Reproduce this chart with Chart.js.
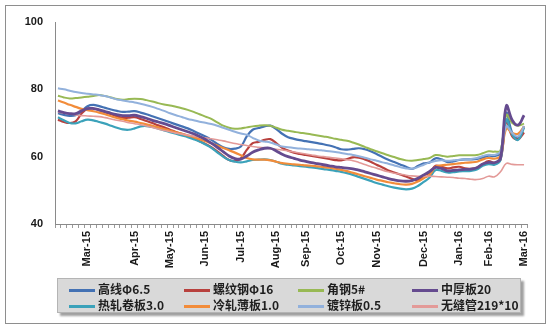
<!DOCTYPE html>
<html>
<head>
<meta charset="utf-8">
<script src="https://cdn.jsdelivr.net/npm/chart.js@4"></script>
<style>
  html, body { margin: 0; padding: 0; background: #fff; }
  #wrap { position: relative; width: 552px; height: 331px; }
  #frame { position: absolute; left: 5px; top: 5px; width: 539px; height: 317px; border: 1px solid #8e8e8e; }
  #chart { position: absolute; left: 0; top: 0; }
  #legend {
    position: absolute; left: 57px; top: 278px; width: 462px; height: 33px;
    background: #d9d9d9; border: 1px solid #b4b4b4; box-shadow: 3px 3px 2px #a0a0a0;
    font: bold 12px "Noto Sans CJK SC", sans-serif; color: #1e1e1e;
  }
  .item { position: absolute; height: 16px; line-height: 16px; white-space: nowrap; }
  .item i { display: inline-block; width: 26px; height: 3px; vertical-align: middle; margin-right: 3px; }
</style>
</head>
<body>
<div id="wrap">
  <div id="frame"></div>
  <canvas id="chart" width="552" height="331"></canvas>
  <div id="legend"></div>
</div>
<script>
// month tick labels and the category slot they sit on
const tickLabels = ['Mar-15', 'Apr-15', 'May-15', 'Jun-15', 'Jul-15', 'Aug-15', 'Sep-15',
                    'Oct-15', 'Nov-15', 'Dec-15', 'Jan-16', 'Feb-16', 'Mar-16'];
const tickAt = [5, 13, 19, 25, 31, 37, 42, 48, 54, 62, 68, 73, 79];

const seriesNames = ['高线Φ6.5', '螺纹钢Φ16', '角钢5#', '中厚板20',
                     '热轧卷板3.0', '冷轧薄板1.0', '镀锌板0.5', '无缝管219*10'];

const gaoxian = [72.9,72.4,72.1,72.3,73.5,75.0,75.4,75.0,74.5,74.0,73.6,73.3,73.4,73.5,73.1,72.6,72.0,71.4,70.8,70.2,
  69.6,69.0,68.4,67.6,66.8,66.0,65.0,63.8,62.8,62.3,62.4,63.0,66.0,68.0,68.5,69.0,69.2,68.2,66.8,65.8,
  65.3,64.9,64.6,64.3,64.0,63.7,63.3,62.8,62.2,62.1,62.3,62.5,62.2,61.6,60.8,59.9,59.1,58.4,57.7,57.0,
  56.4,57.2,58.0,58.3,59.5,59.2,58.4,58.6,59.0,59.2,59.2,59.3,59.7,60.3,60.2,61.0,73.0,67.0,65.5,69.0];

const luowen = [71.0,70.3,70.0,70.5,72.8,74.2,74.3,73.8,73.2,72.6,72.0,71.5,71.6,71.7,71.2,70.6,70.0,69.3,68.7,68.0,
  67.3,66.8,66.2,65.5,64.6,63.8,62.8,61.6,60.2,59.0,58.7,59.5,62.0,64.0,64.4,65.0,65.2,64.0,62.6,61.8,
  61.2,60.8,60.5,60.2,59.9,59.6,59.3,59.0,58.9,59.3,59.8,59.7,59.2,58.5,57.6,56.8,55.9,55.3,54.7,54.1,
  53.4,53.0,54.5,55.2,57.3,57.0,56.5,56.8,57.0,56.5,56.4,56.7,57.8,58.7,58.2,59.0,70.5,66.0,65.2,67.2];

const jiaogang = [78.1,77.6,77.3,77.4,77.6,77.8,78.0,78.3,78.0,77.6,77.1,76.9,77.1,77.2,77.1,76.8,76.4,75.9,75.5,75.2,
  74.8,74.4,73.9,73.3,72.6,71.9,71.2,70.2,69.2,68.6,68.3,68.4,68.7,69.0,69.2,69.3,69.2,68.6,68.0,67.7,
  67.4,67.1,66.9,66.6,66.3,66.0,65.7,65.3,65.0,64.7,64.2,63.6,62.9,62.2,61.6,61.0,60.4,59.9,59.3,58.9,
  58.8,59.0,59.3,59.6,60.5,60.3,60.0,60.2,60.4,60.4,60.4,60.5,61.0,61.6,61.5,61.8,72.4,70.0,69.2,69.8];

const zhonghou = [73.6,73.1,72.8,72.8,73.6,74.3,74.3,73.9,73.4,72.9,72.5,72.2,72.2,72.3,71.9,71.4,70.8,70.3,69.8,69.2,
  68.6,68.0,67.4,66.8,66.0,65.1,64.0,62.8,61.5,60.2,59.4,59.3,60.2,61.3,62.0,62.5,62.5,61.7,60.7,60.0,
  59.5,59.0,58.6,58.2,57.9,57.6,57.3,57.0,56.8,56.6,56.4,56.0,55.5,55.0,54.5,54.0,53.5,53.1,52.8,52.7,
  52.9,53.6,54.6,55.6,56.8,56.5,55.8,55.9,56.1,56.2,56.3,56.7,57.8,58.3,58.2,59.5,75.1,70.8,69.4,72.3];

const rezha = [71.7,70.8,70.0,69.9,70.5,71.0,70.8,70.3,69.8,69.2,68.6,68.1,68.0,68.4,69.0,69.1,68.8,68.3,67.8,67.3,
  66.8,66.3,65.8,65.2,64.5,63.6,62.6,61.3,60.0,59.0,58.5,58.3,58.6,59.0,59.1,59.2,59.0,58.5,57.9,57.6,
  57.4,57.2,57.0,56.8,56.6,56.3,56.1,55.8,55.5,55.1,54.6,54.0,53.4,52.8,52.2,51.7,51.2,50.8,50.5,50.3,
  50.5,51.3,52.5,53.8,56.0,55.8,55.3,55.4,55.6,55.7,55.8,56.2,57.3,57.8,57.6,59.0,71.0,66.5,65.0,68.6];

const lengzha = [76.7,76.1,75.4,74.8,74.2,73.8,73.5,73.1,72.6,72.0,71.5,71.1,70.7,70.4,70.0,69.6,69.2,68.7,68.2,67.7,
  67.2,66.8,66.3,65.8,65.2,64.6,64.0,63.3,62.6,61.9,61.2,60.4,59.6,59.2,59.1,59.1,58.9,58.5,58.1,57.9,
  57.7,57.6,57.4,57.3,57.1,56.9,56.7,56.4,56.1,55.7,55.2,54.7,54.2,53.7,53.2,52.8,52.4,52.1,51.8,51.7,
  51.9,52.6,53.6,54.6,57.0,57.4,57.6,57.8,58.0,58.2,58.3,58.5,59.2,59.6,59.4,60.2,68.4,67.0,66.8,69.0];

const duxin = [80.3,80.0,79.6,79.2,78.9,78.7,78.5,78.3,78.0,77.5,77.0,76.7,76.4,76.1,75.7,75.3,74.8,74.2,73.6,72.9,
  72.3,71.8,71.2,70.8,70.4,70.1,69.7,69.2,68.6,68.0,67.4,66.9,66.5,65.6,64.8,64.5,64.2,63.6,63.0,62.8,
  62.6,62.4,62.3,62.1,62.0,61.8,61.6,61.4,61.1,60.8,60.5,60.1,59.7,59.2,58.8,58.3,57.9,57.4,56.9,56.5,
  56.4,56.9,57.6,58.3,58.7,58.9,58.8,58.9,59.1,59.2,59.3,59.6,60.2,60.6,60.5,61.5,69.0,67.0,66.0,69.0];

const wufeng = [73.2,73.0,72.7,72.4,72.2,72.1,72.0,71.9,71.6,71.2,70.8,70.5,70.1,69.8,69.5,69.1,68.7,68.2,67.8,67.4,
  67.0,66.7,66.4,66.1,65.8,65.6,65.3,65.0,64.7,64.3,63.9,63.6,63.3,63.0,62.8,62.6,62.4,62.2,62.0,61.7,
  61.4,61.1,60.8,60.5,60.2,60.0,59.8,59.6,59.4,59.1,58.8,58.3,57.7,57.1,56.6,56.0,55.5,55.1,54.8,54.5,
  54.3,54.2,54.2,54.2,54.1,54.0,53.9,53.8,53.6,53.5,53.3,53.2,53.5,54.2,54.0,55.5,58.0,57.7,57.6,57.6];

const seriesValues = [gaoxian, luowen, jiaogang, zhonghou, rezha, lengzha, duxin, wufeng];
const seriesColors = ['#4472b4', '#b8413e', '#98b954', '#654b8f', '#3ba2ba', '#f28c3a', '#92b1dc', '#e39a98'];
const seriesWidths = [2.2, 2.2, 2, 2.8, 2.2, 2.2, 2, 1.6];

const categories = gaoxian.map(() => '');
tickAt.forEach((idx, k) => { categories[idx] = tickLabels[k]; });

const datasets = seriesNames.map((name, k) => ({
  label: name,
  data: seriesValues[k],
  borderColor: seriesColors[k],
  backgroundColor: seriesColors[k],
  borderWidth: seriesWidths[k],
  pointRadius: 0,
  tension: 0.4,
  fill: false,
  order: k === 3 ? 0 : 8 - k
}));

const axisFont = { family: 'Liberation Sans, Arial, sans-serif', size: 11, weight: 'bold' };

new Chart(document.getElementById('chart').getContext('2d'), {
  type: 'line',
  data: { labels: categories, datasets: datasets },
  options: {
    responsive: false,
    animation: false,
    layout: { padding: { left: 5, top: 22, right: 25, bottom: 0 } },
    plugins: { legend: { display: false }, tooltip: { enabled: false } },
    scales: {
      x: {
        offset: true,
        grid: { offset: true, drawOnChartArea: false, tickLength: 4, color: '#9a9a9a' },
        border: { color: '#8a8a8a' },
        ticks: { autoSkip: false, minRotation: 90, maxRotation: 90, padding: 3, font: axisFont, color: '#1a1a1a' },
        afterFit: (s) => { s.height = 107; }
      },
      y: {
        min: 40, max: 100,
        grid: { display: false, drawTicks: false },
        border: { color: '#8a8a8a' },
        ticks: { stepSize: 20, padding: 12, font: axisFont, color: '#1a1a1a' },
        afterFit: (s) => { s.width = 50; }
      }
    }
  }
});

// legend, laid out as the 4 x 2 grid of the original
const legend = document.getElementById('legend');
const colX = [11, 126, 240, 354];
const rowY = [2, 18];
seriesNames.forEach((name, k) => {
  const it = document.createElement('div');
  it.className = 'item';
  it.style.left = colX[k % 4] + 'px';
  it.style.top = rowY[Math.floor(k / 4)] + 'px';
  const sw = document.createElement('i');
  sw.style.background = seriesColors[k];
  it.appendChild(sw);
  it.appendChild(document.createTextNode(name));
  legend.appendChild(it);
});
</script>
</body>
</html>
